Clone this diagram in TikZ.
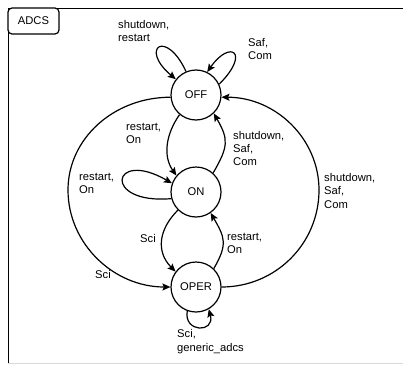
\documentclass[tikz,border=0pt]{standalone}
\usepackage{fontspec}
\setmainfont{Liberation Sans}
\usetikzlibrary{arrows.meta}
\begin{document}
\begin{tikzpicture}[x=1pt,y=1pt,
  txt/.style={font=\fontsize{11.2}{13.4}\selectfont},
  state/.style={draw, circle, line width=1.2pt, minimum size=50pt, inner sep=0pt, txt},
  lbl/.style={anchor=west, align=left, inner sep=0pt, txt},
  edge/.style={line width=1.2pt, -{Stealth[length=8pt,width=7pt,inset=1.5pt]}},
]
\useasboundingbox (0,0) rectangle (403,365);
% frame of the ADCS region
\draw[black!15, line width=1pt] (8,2) -- (403,2);
\draw[line width=1.6pt] (8.5,2) -- (8.5,356.5) -- (403,356.5);
\node[draw, rounded corners=4pt, line width=1.2pt, minimum width=51pt, minimum height=26pt, fill=white, txt] (adcs) at (33.5,344) {ADCS};

% states
\node[state] (off) at (196,270) {OFF};
\node[state] (on) at (196,173) {ON};
\node[state] (oper) at (196,78) {OPER};

% outermost points of the two big arcs
\coordinate (lw) at (68,175);
\coordinate (re) at (319,175);

% transitions between states
\draw[edge] (off.230) to[out=235,in=125,looseness=1.0] (on.140);
\draw[edge] (on.48) to[out=60,in=300,looseness=1.3] (off.314);
\draw[edge] (on.225) to[out=225,in=135,looseness=1.15] (oper.143);
\draw[edge] (oper.46) to[out=60,in=300,looseness=1.3] (on.305);
\draw[edge] (off.185) .. controls +(-56.9,0) and +(0,51.3) .. (lw)
                      .. controls +(0,-53.6) and +(-56.9,0) .. (oper.180);
\draw[edge] (oper.0) .. controls +(54.1,0) and +(0,-53.6) .. (re)
                     .. controls +(0,51.3) and +(54.1,0) .. (off.355);

% self loops
\draw[edge] (off.113) .. controls +(115:48) and +(140:48) .. (off.142);
\draw[edge] (off.25) .. controls +(45:45) and +(55:40) .. (off.64);
\draw[edge] (on.195) .. controls +(185:70) and +(150:70) .. (on.160);
\draw[edge] (oper.250) .. controls +(260:22) and +(285:25) .. (oper.300);

% transition labels
\node[lbl] (l1) at (118,334) {shutdown,\\restart};
\node[lbl] (l2) at (248,316) {Saf,\\Com};
\node[lbl] (l3) at (126,231.5) {restart,\\On};
\node[lbl] (l4) at (233,216.5) {shutdown,\\Saf,\\Com};
\node[lbl] (l5) at (79,181.7) {restart,\\On};
\node[lbl] (l6) at (140,127) {Sci};
\node[lbl] (l7) at (95,91) {Sci};
\node[lbl] (l8) at (227,121.7) {restart,\\On};
\node[lbl] (l9) at (324,174.2) {shutdown,\\Saf,\\Com};
\node[lbl] (l10) at (177,23.3) {Sci,\\generic\_adcs};
\end{tikzpicture}
\end{document}
